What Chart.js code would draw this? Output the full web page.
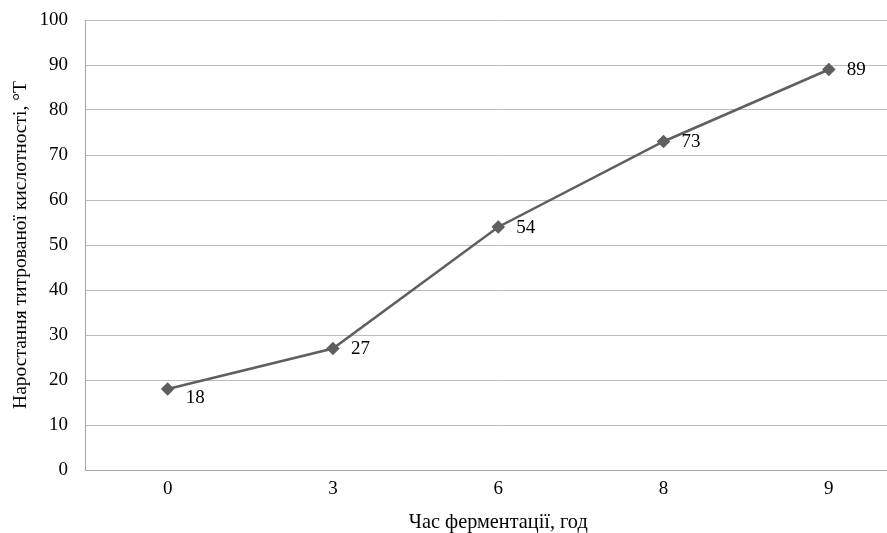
<!DOCTYPE html>
<html>
<head>
<meta charset="utf-8">
<script src="https://cdn.jsdelivr.net/npm/chart.js@4"></script>
<style>
  html, body { margin: 0; padding: 0; background: #fff; overflow: hidden; width: 887px; height: 533px; }
  canvas { display: block; }
</style>
</head>
<body>
<canvas id="chart" width="919" height="533"></canvas>
<script>
// Fermentation time (h) and titratable acidity growth (°T)
const hours = ['0', '3', '6', '8', '9'];
const acidity = [18, 27, 54, 73, 89];
const yTicks = [0, 10, 20, 30, 40, 50, 60, 70, 80, 90, 100];

const FONT = 'Liberation Serif, "Times New Roman", serif';
const FONT_SIZE = 19;

// Value labels beside each point
const valueLabels = {
  id: 'valueLabels',
  afterDatasetsDraw(chart) {
    const ctx = chart.ctx;
    const meta = chart.getDatasetMeta(0);
    ctx.save();
    ctx.font = FONT_SIZE + 'px ' + FONT;
    ctx.fillStyle = '#000';
    ctx.textAlign = 'left';
    ctx.textBaseline = 'middle';
    meta.data.forEach((pt, i) => {
      const dy = i === 0 ? 9 : 1;
      ctx.fillText(String(acidity[i]), pt.x + 18, pt.y + dy);
    });
    ctx.restore();
  }
};

new Chart(document.getElementById('chart'), {
  type: 'line',
  data: {
    labels: hours,
    datasets: [{
      data: acidity,
      borderColor: '#5f5f5f',
      backgroundColor: '#5f5f5f',
      borderWidth: 2.5,
      pointStyle: 'rectRot',
      pointRadius: 5,
      pointHoverRadius: 5,
      tension: 0
    }]
  },
  options: {
    responsive: false,
    animation: false,
    devicePixelRatio: 1,
    layout: { padding: { top: 20, left: 0, right: 0, bottom: 0 } },
    plugins: {
      legend: { display: false },
      tooltip: { enabled: false }
    },
    scales: {
      x: {
        type: 'category',
        offset: true,
        afterFit(scale) {
          scale.height = 63;
          scale.paddingLeft = 0;
          scale.paddingRight = 0;
        },
        grid: { display: false, drawTicks: false },
        border: { display: true, color: '#a6a6a6', width: 1 },
        ticks: { color: '#000', font: { family: FONT, size: FONT_SIZE }, padding: 8 },
        title: {
          display: true,
          text: 'Час ферментації, год',
          color: '#000',
          font: { family: FONT, size: 20.3 },
          padding: { top: 0, bottom: -2 }
        }
      },
      y: {
        min: 0,
        max: 100,
        afterFit(scale) {
          scale.width = 85;
          scale.paddingTop = 0;
          scale.paddingBottom = 0;
        },
        afterBuildTicks(scale) { scale.ticks = yTicks.map(v => ({ value: v })); },
        grid: { color: '#bcbcbc', lineWidth: 1, drawTicks: false },
        border: { display: true, color: '#a6a6a6', width: 1 },
        ticks: { color: '#000', font: { family: FONT, size: FONT_SIZE }, padding: 17 },
        title: {
          display: true,
          text: 'Наростання титрованої кислотності, °Т',
          color: '#000',
          font: { family: FONT, size: 19.5 },
          padding: { top: 9, bottom: 0 }
        }
      }
    }
  },
  plugins: [valueLabels]
});
</script>
</body>
</html>
